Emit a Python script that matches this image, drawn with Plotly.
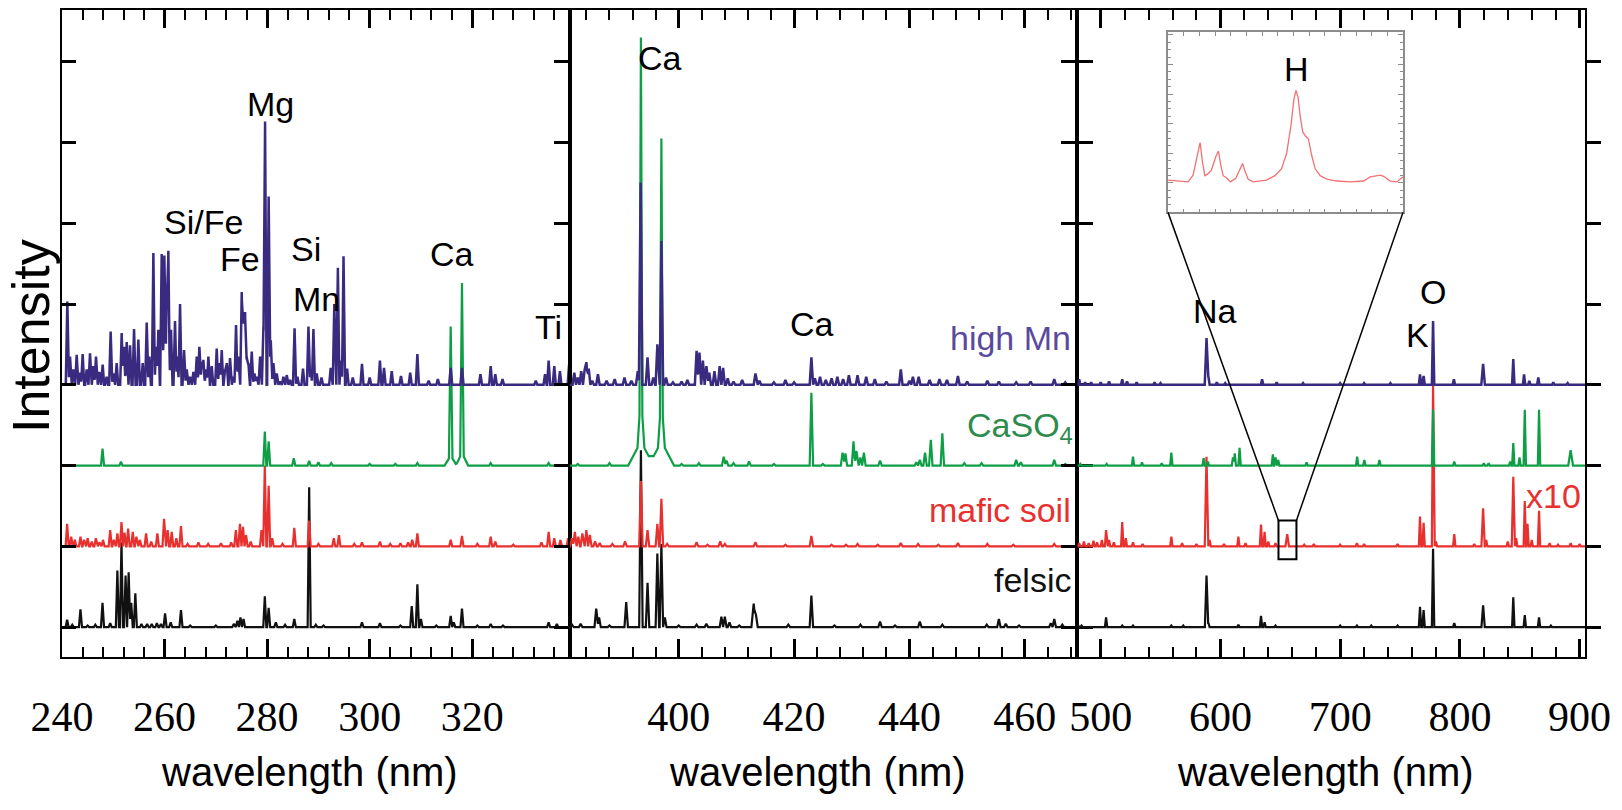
import numpy as np
import plotly.graph_objects as go

# ---------------- data ----------------
PANEL_RANGES = [(240.0, 339.0), (381.1, 469.1), (480.5, 904.5)]
PANEL_TICK0 = [240, 400, 500]
PANEL_DTICK = [20, 20, 100]
PANEL_MINOR = [4, 4, 20]
PANEL_HW = [0.3, 0.3, 1.0]          # default half width of a line, nm
SERIES = ["felsic", "mafic soil", "CaSO4", "high Mn"]
OFFSETS = [0, 1, 2, 3]
COLORS = ["#111111", "#e8312f", "#0e9e45", "#3a2a80"]
LINE_W = [2.2, 2.2, 2.2, 2.5]
LABEL_COLORS = ["#111111", "#e8312f", "#2e8b4e", "#5a4a9c"]

# peaks: (wavelength nm, height above baseline, [half width])
felsic_p1 = [(241.0, 0.09), (242.0, 0.03), (243.6, 0.22), (245.0, 0.02), (246.5, 0.03), (247.9, 0.30),
             (249.4, 0.05), (250.8, 0.70), (251.6, 1.05), (252.4, 0.64), (253.0, 0.68), (253.5, 0.30),
             (254.3, 0.42), (255.5, 0.04), (256.6, 0.04), (257.5, 0.04), (258.5, 0.05), (259.3, 0.04),
             (260.1, 0.17), (261.2, 0.06), (263.2, 0.21), (265.0, 0.02), (270.0, 0.02), (273.5, 0.04),
             (274.2, 0.08), (274.8, 0.12), (275.4, 0.10), (279.55, 0.38), (280.3, 0.24), (281.7, 0.06),
             (283.5, 0.03), (285.3, 0.10), (288.2, 1.73), (289.5, 0.03), (291.0, 0.02), (298.5, 0.06),
             (302.0, 0.05), (306.0, 0.02), (308.2, 0.26), (309.3, 0.53), (310.0, 0.10), (313.0, 0.02),
             (315.8, 0.14), (316.4, 0.06), (318.0, 0.23), (321.0, 0.02), (323.6, 0.04), (326.0, 0.02),
             (334.9, 0.06), (336.5, 0.04)]
mafic_p1 = [(241.0, 0.28), (241.8, 0.12), (242.5, 0.08), (243.6, 0.12), (244.3, 0.08), (245.0, 0.10),
            (245.8, 0.06), (246.6, 0.10), (247.3, 0.05), (248.0, 0.08), (249.4, 0.20), (250.1, 0.08),
            (250.8, 0.16), (251.6, 0.30), (252.2, 0.17), (252.9, 0.22), (253.8, 0.18), (254.5, 0.12),
            (255.2, 0.08), (256.4, 0.16), (257.4, 0.06), (258.6, 0.16), (259.9, 0.34), (260.6, 0.20),
            (261.4, 0.18), (262.3, 0.10), (263.2, 0.25), (264.5, 0.03), (266.6, 0.05), (268.5, 0.03),
            (271.0, 0.04), (273.0, 0.05), (273.9, 0.20), (274.7, 0.28), (275.3, 0.24), (275.9, 0.14),
            (276.8, 0.06), (278.9, 0.20), (279.55, 1.00), (280.3, 0.75), (281.0, 0.10), (283.0, 0.03),
            (285.3, 0.23), (288.2, 0.32), (290.0, 0.03), (293.0, 0.10), (294.0, 0.14), (297.0, 0.03),
            (298.5, 0.05), (302.0, 0.06), (304.0, 0.03), (306.0, 0.04), (307.5, 0.05), (308.3, 0.08),
            (309.3, 0.16), (315.8, 0.08), (318.0, 0.13), (321.0, 0.03), (323.6, 0.12), (324.5, 0.06),
            (328.0, 0.02), (333.5, 0.05), (334.9, 0.18), (336.0, 0.10), (337.2, 0.08), (338.7, 0.10)]
caso4_p1 = [(247.9, 0.21), (251.5, 0.05), (279.55, 0.42), (280.3, 0.30), (285.2, 0.09), (288.2, 0.06),
            (290.0, 0.04), (292.5, 0.03), (300.0, 0.02), (305.0, 0.02), (309.3, 0.03),
            (315.8, 1.60, 0.35), (315.8, 0.12, 1.2), (318.0, 2.10, 0.35), (318.0, 0.16, 1.2),
            (323.6, 0.03), (334.9, 0.03)]
highmn_p1 = [(241.04, 1.03), (241.56, 0.35), (242.21, 0.19), (242.86, 0.37), (243.51, 0.15), (244.03, 0.38),
             (244.81, 0.19), (245.46, 0.39), (246.11, 0.23), (246.63, 0.35), (247.28, 0.16), (247.93, 0.25),
             (248.71, 0.10), (249.49, 0.66), (250.01, 0.14), (250.66, 0.27), (251.64, 0.64), (252.09, 0.47),
             (252.62, 0.53), (253.27, 0.49), (254.05, 0.69), (254.89, 0.56), (255.74, 0.27), (256.52, 0.77),
             (257.04, 0.35), (257.82, 1.63), (258.34, 0.47), (258.79, 0.68), (259.44, 1.62), (259.96, 1.60),
             (260.42, 1.09), (260.74, 1.66), (261.26, 0.68), (262.04, 0.79), (262.50, 0.35), (263.02, 1.00),
             (263.80, 0.43), (264.32, 0.19), (264.97, 0.10), (265.62, 0.16), (266.27, 0.35), (266.79, 0.47),
             (267.25, 0.27), (267.57, 0.31), (268.09, 0.19), (268.55, 0.35), (269.20, 0.23), (270.17, 0.45),
             (270.69, 0.27), (271.15, 0.43), (271.80, 0.19), (272.12, 0.27), (272.77, 0.33), (273.42, 0.10),
             (273.94, 0.74), (274.40, 0.35), (275.05, 1.15), (275.38, 0.84), (275.70, 0.90), (276.03, 0.35),
             (276.35, 0.27), (277.00, 0.41), (277.52, 0.14), (277.98, 0.10), (278.63, 0.35), (279.28, 0.72),
             (279.60, 3.26), (280.30, 2.33), (280.71, 0.55), (281.23, 0.27), (281.88, 0.14), (282.53, 0.04),
             (283.18, 0.10), (283.83, 0.12), (284.48, 0.06), (285.35, 0.70), (285.91, 0.10), (287.0, 0.20),
             (288.06, 0.72), (288.51, 0.19), (289.03, 0.69), (289.68, 0.14), (290.6, 0.09), (292.4, 0.21),
             (293.1, 1.00), (293.8, 1.45), (294.4, 0.30), (294.9, 1.59), (295.6, 0.20), (296.7, 0.09),
             (298.5, 0.26), (300.0, 0.09), (302.0, 0.30), (302.8, 0.21), (304.3, 0.17), (306.1, 0.11),
             (307.9, 0.15), (309.3, 0.38), (311.5, 0.05), (313.3, 0.07), (315.8, 0.21), (318.0, 0.21),
             (321.6, 0.13), (323.6, 0.23), (324.5, 0.13), (325.9, 0.07), (332.4, 0.05), (334.2, 0.13),
             (334.9, 0.30), (336.0, 0.23), (337.1, 0.17), (338.9, 0.26)]

felsic_p2 = [(381.5, 0.03), (383.0, 0.04), (385.7, 0.23), (386.2, 0.12), (388.0, 0.02), (390.9, 0.31),
             (393.45, 2.19), (394.6, 0.55), (396.3, 0.91), (397.0, 1.03), (397.6, 0.12), (400.0, 0.02),
             (403.1, 0.03), (404.8, 0.04), (407.4, 0.13), (408.0, 0.13), (408.8, 0.06), (410.5, 0.02),
             (413.0, 0.29, 0.4), (413.4, 0.15), (419.0, 0.03), (423.0, 0.39), (427.0, 0.02), (431.5, 0.03),
             (434.9, 0.07), (437.5, 0.02), (441.8, 0.07), (445.7, 0.03), (453.4, 0.03), (455.5, 0.10),
             (456.7, 0.04), (459.0, 0.02), (464.5, 0.05), (465.1, 0.10), (466.5, 0.03)]
mafic_p2 = [(381.5, 0.10), (382.0, 0.18), (382.6, 0.12), (383.3, 0.16), (384.0, 0.20), (384.6, 0.14),
            (385.5, 0.06), (386.3, 0.04), (388.5, 0.03), (390.7, 0.06), (393.45, 0.81), (394.6, 0.20),
            (396.3, 0.28), (397.0, 0.59), (398.0, 0.03), (403.1, 0.05), (405.0, 0.02), (407.2, 0.06),
            (408.0, 0.03), (413.3, 0.05), (418.5, 0.02), (423.0, 0.13), (426.5, 0.02), (429.0, 0.02),
            (431.0, 0.03), (434.5, 0.02), (438.5, 0.04), (441.5, 0.03), (445.0, 0.02), (448.4, 0.04),
            (453.5, 0.03), (458.0, 0.02), (465.1, 0.03)]
caso4_p2 = [(382.5, 0.02), (388.0, 0.03),
            (393.45, 4.40, 0.25), (393.45, 0.60, 0.6), (393.45, 0.30, 2.2),
            (397.0, 3.20, 0.25), (397.0, 0.55, 0.6), (397.0, 0.30, 2.2),
            (400.5, 0.02), (403.5, 0.03), (407.8, 0.11), (408.3, 0.06), (409.5, 0.03), (412.2, 0.05),
            (416.5, 0.02), (423.0, 0.90), (425.0, 0.02), (428.4, 0.16), (428.9, 0.15), (430.3, 0.30),
            (430.8, 0.18), (431.5, 0.10), (432.1, 0.16), (434.9, 0.06), (441.2, 0.04), (441.8, 0.07),
            (442.7, 0.16), (443.7, 0.32), (445.7, 0.40), (449.5, 0.03), (452.5, 0.03), (458.5, 0.07),
            (459.3, 0.04), (465.1, 0.07), (467.0, 0.02)]
highmn_p2 = [(381.9, 0.15), (382.5, 0.09), (383.1, 0.17), (383.7, 0.19), (384.0, 0.28), (384.4, 0.20),
             (385.0, 0.05), (386.0, 0.13), (387.5, 0.05), (388.9, 0.07), (390.6, 0.09), (391.8, 0.05),
             (392.9, 0.17), (393.4, 2.50), (394.6, 0.34), (395.6, 0.09), (396.3, 0.50), (397.0, 1.78),
             (397.8, 0.09), (399.0, 0.03), (400.5, 0.04), (401.5, 0.06), (403.1, 0.42), (403.6, 0.40),
             (404.2, 0.30), (404.8, 0.23), (405.3, 0.15), (406.2, 0.17), (407.1, 0.23), (407.7, 0.21),
             (408.5, 0.08), (409.5, 0.04), (411.0, 0.06), (413.3, 0.14), (414.0, 0.05), (416.5, 0.03),
             (418.5, 0.06), (420.0, 0.03), (423.0, 0.34), (423.6, 0.08), (424.5, 0.10), (425.5, 0.06),
             (426.5, 0.08), (427.5, 0.10), (428.5, 0.07), (429.5, 0.12), (431.0, 0.12), (432.5, 0.10),
             (434.0, 0.07), (436.0, 0.04), (438.5, 0.19), (440.0, 0.05), (440.6, 0.10), (441.6, 0.10),
             (443.5, 0.06), (445.2, 0.07), (446.5, 0.06), (448.4, 0.11), (450.0, 0.04), (453.5, 0.05),
             (455.5, 0.04), (458.5, 0.03), (461.0, 0.04), (465.1, 0.07), (467.0, 0.03)]

felsic_p3 = [(481, 0.03), (484, 0.02), (504.5, 0.12), (518, 0.02), (527, 0.02), (559, 0.02), (569, 0.02),
             (588.4, 0.64, 1.4), (590, 0.05), (615, 0.03), (633.9, 0.14), (636.9, 0.06), (646, 0.02),
             (700, 0.02), (714, 0.02), (726, 0.02), (748, 0.02), (766.7, 0.25), (769.7, 0.21),
             (777.6, 0.97), (795.3, 0.05), (819.4, 0.27, 1.4), (844.6, 0.37), (854.2, 0.15),
             (866.1, 0.12), (876, 0.02)]
mafic_p3 = [(482, 0.04), (486, 0.06), (490, 0.04), (494, 0.07), (497, 0.05), (501, 0.08), (504.5, 0.20),
            (507, 0.08), (511, 0.05), (518, 0.30), (521, 0.10), (527, 0.05), (535, 0.03), (559, 0.12),
            (568, 0.04), (580, 0.03), (588.4, 1.11, 1.5), (591, 0.08), (603, 0.03), (615, 0.12),
            (621, 0.04), (633.9, 0.27), (636.9, 0.18), (640, 0.06), (646, 0.04), (655.8, 0.15, 1.5),
            (670, 0.02), (678, 0.03), (700, 0.02), (714, 0.04), (720, 0.03), (748, 0.03),
            (766.7, 0.37), (769.7, 0.29), (777.6, 1.99), (780, 0.06), (795.3, 0.15), (812, 0.03),
            (819.4, 0.47, 1.4), (822, 0.08), (840, 0.06), (844.6, 0.86, 1.3), (847, 0.10),
            (854.2, 0.56), (856.5, 0.28), (860, 0.08), (866.1, 0.44), (875, 0.04), (882, 0.02),
            (892.5, 0.04), (900, 0.03)]
caso4_p3 = [(483, 0.02), (505, 0.02), (527, 0.11), (534.5, 0.04), (551, 0.03), (559, 0.16), (586, 0.09),
            (589.5, 0.05), (610.5, 0.10), (612, 0.15), (616, 0.22), (643.8, 0.14), (646, 0.10),
            (648.3, 0.07), (672, 0.04), (714.2, 0.11), (720.2, 0.07), (732.8, 0.07), (777.6, 0.69),
            (795.3, 0.05), (820, 0.03), (824, 0.03), (842, 0.05), (844.6, 0.28), (849.8, 0.10),
            (854.2, 0.69), (866.1, 0.69), (892.5, 0.19, 2.0)]
highmn_p3 = [(482, 0.07), (487, 0.03), (492, 0.03), (500, 0.03), (507, 0.04), (518, 0.07), (522, 0.04),
             (530, 0.03), (545, 0.03), (550, 0.02), (588.4, 0.58, 1.5), (590, 0.10), (597, 0.03),
             (604, 0.02), (634.8, 0.07), (647, 0.03), (669, 0.02), (700, 0.02), (720, 0.02), (742, 0.02),
             (766.7, 0.13), (769.7, 0.11), (777.6, 0.79), (795, 0.07), (819.4, 0.26, 1.5), (844.6, 0.32),
             (853.6, 0.13), (858, 0.05), (865.5, 0.09), (878, 0.03), (890, 0.02)]

PEAKS = [
    [felsic_p1, mafic_p1, caso4_p1, highmn_p1],
    [felsic_p2, mafic_p2, caso4_p2, highmn_p2],
    [felsic_p3, mafic_p3, caso4_p3, highmn_p3],
]

# inset: zoom of the mafic soil spectrum around H-alpha
INSET_RANGE_X = (648.5, 663.5)
INSET_RANGE_Y = (0.0, 6.1)
inset_wl = [648.5, 649.78, 650.1, 650.36, 650.55, 650.7, 650.85, 651.06, 651.27, 651.55, 651.72, 651.87,
            652.02, 652.23, 652.49, 652.83, 653.09, 653.26, 653.43, 653.62, 653.94, 654.79, 655.33,
            655.75, 656.07, 656.35, 656.54, 656.67, 656.8, 656.93, 657.1, 657.27, 657.46, 657.67,
            657.89, 658.21, 658.63, 659.27, 660.13, 660.98, 661.41, 662.05, 662.26, 662.69, 663.1, 663.5]
inset_int = [1.09, 1.03, 1.26, 1.93, 2.36, 1.71, 1.24, 1.31, 1.43, 1.88, 2.07, 1.6, 1.24, 1.17, 1.03,
             1.15, 1.43, 1.65, 1.37, 1.12, 1.03, 1.09, 1.24, 1.48, 1.99, 2.94, 3.84, 4.12, 3.9, 3.28,
             2.72, 2.58, 2.49, 1.93, 1.48, 1.24, 1.12, 1.06, 1.03, 1.06, 1.2, 1.26, 1.22, 1.06, 1.03, 1.2]
BOX_Y = (0.84, 1.32)   # zoom box height on the main axis (intensity units)

# ---------------- geometry helpers ----------------
W, H = 1622, 810
L, R, T, B = 62, 1585, 8, 657
YR = (-0.37, 7.64)


def pxx(x):
    return (x - L) / (R - L)


def pyy(y):
    return (B - y) / (B - T)


def spectrum(peaks, xr, hw0):
    xs = [xr[0], xr[1]]
    items = []
    for p in peaks:
        c, h = p[0], p[1]
        w = p[2] if len(p) > 2 else hw0
        items.append((c, h, w))
        xs += [c - w, c, c + w]
    x = np.unique(np.clip(np.array(xs), xr[0], xr[1]))
    y = np.zeros_like(x)
    for c, h, w in items:
        y += np.interp(x, [c - w, c, c + w], [0.0, h, 0.0], left=0.0, right=0.0)
    return x, y


fig = go.Figure()
third = 1.0 / 3.0
domains = [(0.0, third), (third, 2 * third), (2 * third, 1.0)]

for k in range(3):
    xa = "x" if k == 0 else f"x{k + 1}"
    for s in range(4):
        x, y = spectrum(PEAKS[k][s], PANEL_RANGES[k], PANEL_HW[k])
        fig.add_trace(go.Scatter(x=x, y=y + OFFSETS[s], mode="lines", xaxis=xa, yaxis="y",
                                 line=dict(color=COLORS[s], width=LINE_W[s]), showlegend=False,
                                 hoverinfo="skip"))

fig.add_trace(go.Scatter(x=inset_wl, y=inset_int, mode="lines", xaxis="x4", yaxis="y4",
                         line=dict(color="#f27272", width=1.3), showlegend=False, hoverinfo="skip"))

layout = dict(width=W, height=H, margin=dict(l=L, r=W - R, t=T, b=H - B),
              paper_bgcolor="white", plot_bgcolor="white", showlegend=False)
for k in range(3):
    key = "xaxis" if k == 0 else f"xaxis{k + 1}"
    layout[key] = dict(domain=list(domains[k]), range=list(PANEL_RANGES[k]), anchor="y",
                       showline=True, linewidth=2, linecolor="black", mirror="ticks",
                       ticks="inside", ticklen=18, tickwidth=2.5, tickcolor="black",
                       showgrid=False, zeroline=False,
                       tickfont=dict(family="Liberation Serif", size=42, color="black"),
                       ticklabelstandoff=22,
                       tick0=PANEL_TICK0[k], dtick=PANEL_DTICK[k],
                       minor=dict(dtick=PANEL_MINOR[k], ticks="inside", ticklen=10, tickwidth=2,
                                  tickcolor="black"))
layout["yaxis"] = dict(range=list(YR), anchor="x", showline=True, linewidth=2, linecolor="black",
                       mirror="allticks", ticks="inside", ticklen=14, tickwidth=2.5, tickcolor="black",
                       tick0=0, dtick=1, showticklabels=False, showgrid=False, zeroline=False)

# inset axes
ix0, ix1, iy0, iy1 = 1168, 1403, 30, 211
gray = "#8c8c8c"
layout["xaxis4"] = dict(domain=[pxx(ix0), pxx(ix1)], range=list(INSET_RANGE_X), anchor="y4",
                        showline=True, linewidth=1.5, linecolor=gray, mirror="ticks", ticks="inside",
                        ticklen=4, tickwidth=1, tickcolor=gray, dtick=1, tick0=648.5,
                        showticklabels=False, showgrid=False, zeroline=False)
layout["yaxis4"] = dict(domain=[pyy(iy1), pyy(iy0)], range=list(INSET_RANGE_Y), anchor="x4",
                        showline=True, linewidth=1.5, linecolor=gray, mirror="ticks", ticks="inside",
                        ticklen=5, tickwidth=1, tickcolor=gray, dtick=1, tick0=0,
                        minor=dict(dtick=0.25, ticks="inside", ticklen=3, tickwidth=1, tickcolor=gray),
                        showticklabels=False, showgrid=False, zeroline=False)
fig.update_layout(**layout)

# zoom box on panel 3 and connecting lines
x3r = PANEL_RANGES[2]
d3 = domains[2]


def x3_to_px(v):
    frac = (v - x3r[0]) / (x3r[1] - x3r[0])
    return L + (d3[0] + frac * (d3[1] - d3[0])) * (R - L)


def y_to_px(v):
    return B - (v - YR[0]) / (YR[1] - YR[0]) * (B - T)


bx0, bx1 = x3_to_px(INSET_RANGE_X[0]), x3_to_px(INSET_RANGE_X[1])
by0, by1 = y_to_px(BOX_Y[1]), y_to_px(BOX_Y[0])
shapes = [
    dict(type="rect", xref="paper", yref="paper", x0=pxx(bx0), x1=pxx(bx1), y0=pyy(by1), y1=pyy(by0),
         line=dict(color="black", width=2)),
    dict(type="line", xref="paper", yref="paper", x0=pxx(bx0), y0=pyy(by0), x1=pxx(ix0), y1=pyy(iy1),
         line=dict(color="black", width=1.5)),
    dict(type="line", xref="paper", yref="paper", x0=pxx(bx1), y0=pyy(by0), x1=pxx(ix1), y1=pyy(iy1),
         line=dict(color="black", width=1.5)),
]
fig.update_layout(shapes=shapes)

SANS = "Liberation Sans"
ann = []


def label(text, x, y, size=34, color="black", xanchor="center", angle=0):
    ann.append(dict(text=text, x=pxx(x), y=pyy(y), xref="paper", yref="paper", showarrow=False,
                    xanchor=xanchor, yanchor="middle", textangle=angle,
                    font=dict(family=SANS, size=size, color=color)))


# element labels
for t, x, y in [("Mg", 270, 102), ("Si/Fe", 203, 221), ("Fe", 240, 258), ("Si", 306, 248),
                ("Mn", 316, 298), ("Ca", 452, 253), ("Ti", 548, 326), ("Ca", 660, 56),
                ("Ca", 812, 323), ("Na", 1215, 310), ("K", 1417, 334), ("O", 1433, 291),
                ("H", 1296, 67)]:
    label(t, x, y)

# series labels
label("high Mn", 1073, 337, color=LABEL_COLORS[3], xanchor="right")
label("CaSO<sub>4</sub>", 1075, 427, color=LABEL_COLORS[2], xanchor="right")
label("mafic soil", 1073, 510, color=LABEL_COLORS[1], xanchor="right")
label("felsic", 1073, 580, color=LABEL_COLORS[0], xanchor="right")
label("x10", 1583, 496, color=LABEL_COLORS[1], xanchor="right")

# axis titles
for k in range(3):
    cx = L + (domains[k][0] + domains[k][1]) / 2 * (R - L) - 6
    label("wavelength (nm)", cx, 772, size=40)
label("Intensity", 31, 335, size=52, angle=-90)

fig.update_layout(annotations=ann)
fig.write_html("out.html")
